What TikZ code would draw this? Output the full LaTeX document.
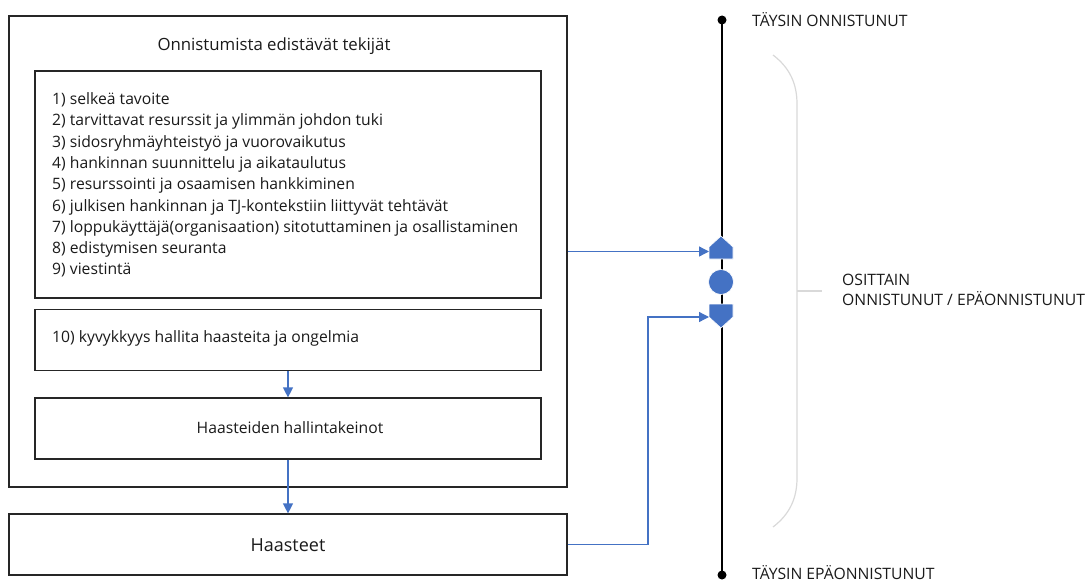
\documentclass[tikz,border=0pt]{standalone}
\usepackage{fontspec}
\setmainfont{Open Sans}
\usetikzlibrary{arrows.meta,positioning}
\definecolor{accent}{HTML}{4472C4}
\definecolor{frame}{HTML}{262626}
\definecolor{bracegray}{HTML}{D9D9D9}
\definecolor{ink}{HTML}{1A1A1A}
\begin{document}
\begin{tikzpicture}[x=1pt,y=-1pt,
  box/.style={draw=frame,line width=1.2pt,rectangle,inner sep=0pt},
  flow/.style={draw=accent,line width=1.3pt,-{Triangle[length=10pt,width=10pt]}},
  marker/.style={fill=accent,draw=white,line width=0.6pt},
  txt/.style={text=ink,inner sep=0pt},
  small/.style={font=\fontsize{15.7}{20}\selectfont},
  large/.style={font=\fontsize{16.8}{20}\selectfont}]
\useasboundingbox (0,0) rectangle (1087,583);

% outer frame and its inner boxes
\node[box,minimum width=558pt,minimum height=471pt] (outer) at (288,251.5) {};
\node[txt,large] (title) at (274,46) {Onnistumista edistävät tekijät};
\node[box,minimum width=506pt,minimum height=227pt] (factors) at (288,184.5) {};
\node[txt,anchor=west,align=left,font=\fontsize{15.7}{21.3}\selectfont] (list) at (52,185)
 {1) selkeä tavoite\\
  2) tarvittavat resurssit ja ylimmän johdon tuki\\
  3) sidosryhmäyhteistyö ja vuorovaikutus\\
  4) hankinnan suunnittelu ja aikataulutus\\
  5) resurssointi ja osaamisen hankkiminen\\
  6) julkisen hankinnan ja TJ-kontekstiin liittyvät tehtävät\\
  7) loppukäyttäjä(organisaation) sitotuttaminen ja osallistaminen\\
  8) edistymisen seuranta\\
  9) viestintä};
\node[box,minimum width=506pt,minimum height=61pt] (ability) at (288,340) {};
\node[txt,anchor=west,small] (abilitytext) at (52,338) {10) kyvykkyys hallita haasteita ja ongelmia};
\node[box,minimum width=506pt,minimum height=61pt] (means) at (288,428.5) {};
\node[txt,small] (meanstext) at (290,428) {Haasteiden hallintakeinot};

% challenges box
\node[box,minimum width=558pt,minimum height=61pt] (challenges) at (288,544.5) {};
\node[txt,font=\fontsize{18}{20}\selectfont] (challengestext) at (288,545) {Haasteet};

% success scale
\coordinate (top) at (722,20);
\coordinate (bottom) at (722,575);
\draw[black,line width=1.5pt] (top) -- (bottom);
\fill[black] (top) circle (4.5pt);
\fill[black] (bottom) circle (4.5pt);
\node[txt,anchor=west,small] (full) at (752,20) {TÄYSIN ONNISTUNUT};
\node[txt,anchor=west,small] (fail) at (752,573) {TÄYSIN EPÄONNISTUNUT};

% markers on the scale
\path[marker] (709,259) -- (709,247) -- (721,236) -- (733,247) -- (733,259) -- cycle;
\coordinate (up) at (709,252);
\path[marker] (721,282) circle (12.5pt);
\path[marker] (709,304) -- (733,304) -- (733,317) -- (721,328) -- (709,317) -- cycle;
\coordinate (down) at (709,317);

% partial range brace
\draw[bracegray,line width=1.2pt] (773,55) .. controls (790,68) and (797,84) .. (797,104)
  -- (797,478) .. controls (797,498) and (790,514) .. (773,527);
\draw[bracegray,line width=1.2pt] (797,291) -- (822,291);
\node[txt,anchor=west,align=left,font=\fontsize{15.7}{20}\selectfont] (partial) at (842,290)
 {OSITTAIN\\ONNISTUNUT / EPÄONNISTUNUT};

% connectors
\draw[flow] (ability.south) -- (means.north);
\draw[flow] (means.south) -- (challenges.north);
\draw[flow] (outer.east) -- (outer.east -| up);
\draw[flow] (challenges.east) -- (648,544.5) |- (down);
\end{tikzpicture}
\end{document}
